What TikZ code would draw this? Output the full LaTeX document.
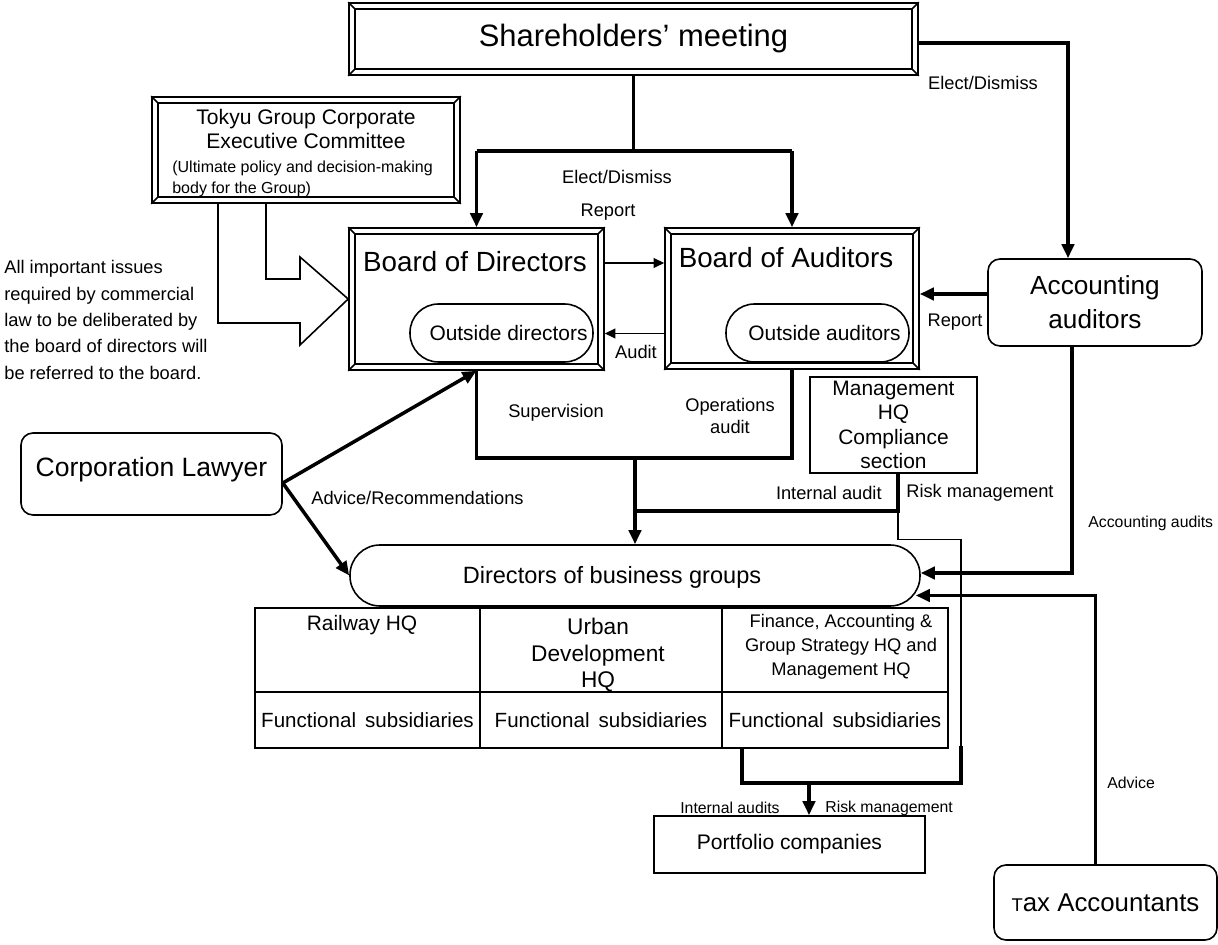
\documentclass[tikz,border=0pt]{standalone}
\usepackage{fontspec}
\setmainfont{Liberation Sans}
\usetikzlibrary{arrows.meta,positioning}

\newcommand{\pxu}{0.02cm}
\newcommand{\fs}[2]{\fontsize{#1}{#2}\selectfont}
% double frame with bevelled corners
\newcommand{\bevel}[1]{%
  \draw[frame] ([shift={(7,7)}]#1.north west) rectangle ([shift={(-7,-7)}]#1.south east);
  \draw[frame] (#1.north west) -- ([shift={(7,7)}]#1.north west)
    (#1.north east) -- ([shift={(-7,7)}]#1.north east)
    (#1.south west) -- ([shift={(7,-7)}]#1.south west)
    (#1.south east) -- ([shift={(-7,-7)}]#1.south east);}

\begin{document}
\begin{tikzpicture}[x=\pxu, y=-\pxu,
  frame/.style={line width=0.9pt},
  box/.style={draw, line width=0.9pt, inner sep=0pt},
  wh/.style 2 args={minimum width=#1*\pxu, minimum height=#2*\pxu},
  pill/.style={box, rounded corners=0.57cm},
  rbox/.style={box, rounded corners=0.24cm},
  link/.style={line width=2pt},
  fine/.style={line width=0.8pt},
  arr/.style={-{Triangle[length=8pt,width=7pt]}},
  arrs/.style={-{Triangle[length=6pt,width=5.5pt]}},
  lbl/.style={inner sep=0pt, font=\fs{10.4}{13}},
  sml/.style={inner sep=0pt, font=\fs{9}{11}}]
\useasboundingbox (0,0) rectangle (1218,945);

% Top level
\node[box, wh={569}{72}, font=\fs{17.6}{20}] (share) at (633.5,39) {Shareholders’ meeting};
\bevel{share}

\node[box, wh={308}{106}] (tokyu) at (306,150) {};
\bevel{tokyu}
\node[inner sep=0pt, font=\fs{12}{13.6}, align=center] (tokyuT) at (306,129) {Tokyu Group Corporate\\Executive Committee};
\node[inner sep=0pt, font=\fs{9.1}{11.9}, align=left, anchor=west] (tokyuN) at (172,178.5) {(Ultimate policy and decision-making\\body for the Group)};

\node[inner sep=0pt, font=\fs{10.4}{15}, align=left, anchor=west] (note) at (4,320) {All important issues\\required by commercial\\law to be deliberated by\\the board of directors will\\be referred to the board.};

% Boards
\node[box, wh={255}{142}] (bod) at (476.5,299) {};
\bevel{bod}
\node[inner sep=0pt, font=\fs{15.8}{18}] (bodT) at (475,262) {Board of Directors};
\node[pill, wh={183}{58}, font=\fs{11.9}{14}] (outdir) at (501.5,333) {\hspace{8pt}Outside directors};

\node[box, wh={254}{141}] (boa) at (792,298.5) {};
\bevel{boa}
\node[inner sep=0pt, font=\fs{15.8}{18}] (boaT) at (786,258) {Board of Auditors};
\node[pill, wh={183}{58}, font=\fs{11.9}{14}] (outaud) at (817.5,333) {\hspace{8pt}Outside auditors};

% bent block arrow from the committee
\draw[frame] (218,203) -- (218,323) -- (300,323) -- (300,345) -- (bod.west)
  -- (300,257) -- (300,279) -- (266,279) -- (266,203);

\node[rbox, wh={214}{87}, align=center, font=\fs{14.9}{19.3}] (acc) at (1095,302.5) {Accounting\\auditors};
\node[rbox, wh={261}{82}, font=\fs{15.1}{18}] (lawyer) at (151.5,474) {\raisebox{2.3pt}[\height][\depth]{Corporation Lawyer}};
\node[box, wh={167}{96}, align=center, font=\fs{11.9}{13.9}] (comp) at (893.5,425) {Management\\HQ\\Compliance\\section};

% Business groups
\node[box, rounded corners=0.6cm, wh={570}{61}] (dbg) at (635,575.5) {};
\node[inner sep=0pt, font=\fs{13.4}{16}] (dbgT) at (612,577) {Directors of business groups};

\node[box, wh={225}{84}] (rail) at (367.5,650) {};
\node[box, wh={242}{84}] (urban) at (601,650) {};
\node[box, wh={226}{84}] (fin) at (835,650) {};
\node[box, wh={225}{56}, font=\fs{11.7}{14}] (railS) at (367.5,720) {Functional\, subsidiaries};
\node[box, wh={242}{56}, font=\fs{11.7}{14}] (urbanS) at (601,720) {Functional\, subsidiaries};
\node[box, wh={226}{56}, font=\fs{11.7}{14}] (finS) at (835,720) {Functional\, subsidiaries};
\node[inner sep=0pt, font=\fs{11.9}{14}] (railT) at (362,625) {Railway HQ};
\node[inner sep=0pt, font=\fs{12.9}{15.3}, align=center] (urbanT) at (598,655) {Urban\\Development\\HQ};
\node[inner sep=0pt, font=\fs{10.4}{13.6}, align=center] (finT) at (841,647) {Finance, Accounting \&\\Group Strategy HQ and\\Management HQ};

\node[box, wh={271}{57}, font=\fs{12}{14}] (port) at (789.5,844.5) {Portfolio companies};
\node[rbox, wh={223}{75}, font=\fs{14.7}{17}] (tax) at (1105.5,902.5) {{\fs{10.5}{12}T}ax Accountants};

% Connectors
\draw[link] (share.south) -- ++(0,75) coordinate (elect);
\draw[link] (bod.north |- elect) -- (boa.north |- elect);
\draw[link, arr] (bod.north |- elect) -- (bod.north);
\draw[link, arr] (boa.north |- elect) -- (boa.north);
\draw[link, arr] ([shift={(0,4)}]share.east) -| ([shift={(-27,0)}]acc.north);

\draw[line width=1.1pt, arrs] ([shift={(0,-36)}]bod.east) coordinate (rep) -- (boa.west |- rep);
\draw[line width=1.1pt, arrs] ([shift={(0,35)}]boa.west) coordinate (aud) -- (bod.east |- aud);
\draw[link, arr] ([shift={(0,-8.5)}]acc.west) coordinate (rp) -- (boa.east |- rp);

\draw[link] (bod.south) -- ++(0,87) coordinate (sv) -| (boa.south);
\draw[link, arr] (sv -| dbg.north) -- (dbg.north);
\draw[link] ([shift={(4.5,0)}]comp.south) -- ++(0,37) coordinate (ia) -- (ia -| dbg.north);
\draw[fine] (ia) -- ++(0,29) -- ++(63,0) -- ++(0,206);

\draw[link, arr] ([shift={(-23,0)}]acc.south) |- ([shift={(0,-2.5)}]dbg.east);
\draw[link, arr] ([shift={(-10,0)}]tax.north) |- ([shift={(-5,20)}]dbg.east);

\draw[link] ([shift={(21,0)}]finS.south west) -- ++(0,34) -- ++(219,0) coordinate (brk) -- ++(0,-37);
\draw[link, arr] ([shift={(19.5,0)}]port.north |- brk) -- ([shift={(19.5,0)}]port.north);

\coordinate (lw) at ([shift={(0,9)}]lawyer.east);
\draw[link, arr] (lw) -- (bod.south);
\draw[link, arr] (lw) -- (dbg.west);

% Labels
\node[lbl] (l1) at (617,177) {Elect/Dismiss};
\node[lbl] (l2) at (608,212) {Report};
\node[lbl] (l3) at (983,83) {Elect/Dismiss};
\node[lbl] (l4) at (636,352) {Audit};
\node[lbl] (l5) at (955,322) {Report};
\node[lbl] (l6) at (556,413) {Supervision};
\node[lbl, align=center] (l7) at (730,416) {Operations\\audit};
\node[lbl, anchor=east] (l8) at (882,493) {Internal audit};
\node[lbl, anchor=west] (l9) at (906,493) {Risk management};
\node[lbl, anchor=west] (l10) at (311,498) {Advice/Recommendations};
\node[sml, anchor=west] (l11) at (1088,523) {Accounting audits};
\node[sml, anchor=west] (l12) at (1107,783) {Advice};
\node[sml, anchor=east] (l13) at (780,808) {Internal audits};
\node[sml, anchor=west] (l14) at (825,808) {Risk management};
\end{tikzpicture}
\end{document}
